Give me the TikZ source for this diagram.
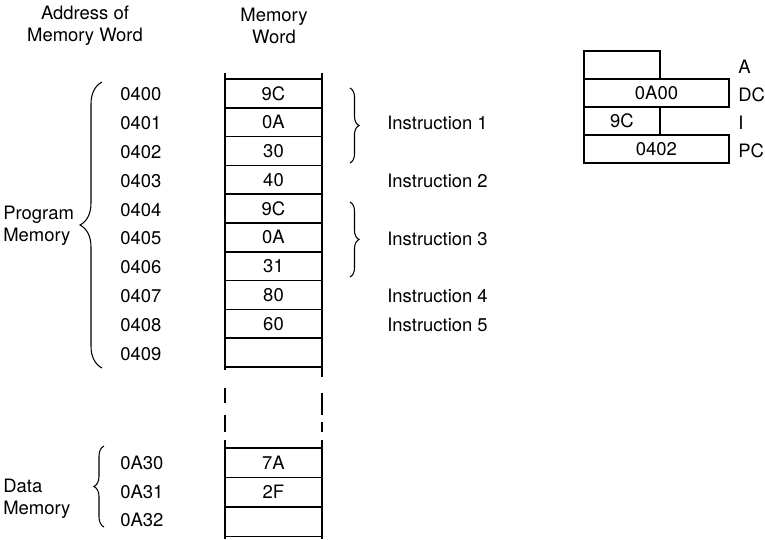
\documentclass[tikz,border=0pt]{standalone}
\usepackage{fontspec}
\setmainfont{TeX Gyre Heros}
\usetikzlibrary{decorations.pathreplacing,positioning}
\tikzset{
  cell/.style={draw,line width=1pt,minimum width=1.94cm,minimum height=0.576cm,inner sep=0pt},
  reg/.style={draw,line width=1pt,minimum height=0.56cm,inner sep=0pt,outer sep=0pt,anchor=north west},
  lbl/.style={anchor=west,inner sep=0pt},
  curly/.style={decorate,decoration={brace,amplitude=#1},semithick},
}

\begin{document}
\begin{tikzpicture}[x=0.02cm,y=-0.02cm,font=\fontsize{10.5}{12.5}\selectfont]
      \useasboundingbox (0,0) rectangle (765,539);
      % headings
      \node[align=center] (haddr) at (85,26) {Address of\\Memory Word};
      \node[align=center] (hword) at (274,26) {Memory\\Word};
      % program memory
      \foreach \v [count=\i from 0] in {9C,0A,30,40,9C,0A,31,80,60,{}}
        \node[cell] (c\i) at (273.5,{93.4+28.8*\i}) {\v};
      \foreach \a [count=\i from 0] in {0400,0401,0402,0403,0404,0405,0406,0407,0408,0409}
        \node[lbl] (a\i) at (120,{94.5+28.8*\i}) {\a};
      % data memory
      \foreach \v [count=\i from 0] in {7A,2F,{}}
        \node[cell,minimum height=0.59cm] (d\i) at (273.5,{462.75+29.5*\i}) {\v};
      \foreach \a [count=\i from 0] in {0A30,0A31,0A32}
        \node[lbl] (b\i) at (120,{463+28.5*\i}) {\a};
      % column sides, broken between the two parts
      \draw[line width=1pt] (225,73) -- (225,370) (225,388) -- (225,403)
        (225,415) -- (225,432) (225,440) -- (225,539);
      \draw[line width=1pt] (322,73) -- (322,377) (322,393) -- (322,415)
        (322,422) -- (322,432) (322,440) -- (322,539);
      % braces and their labels
      \coordinate (pmtop) at (102,82);
      \coordinate (pmbot) at (102,368);
      \draw[curly=0.44cm] (pmbot) -- (pmtop);
      \node[lbl,align=left] (pm) at (3,226) {Program\\Memory};
      \coordinate (dmtop) at (104,446);
      \coordinate (dmbot) at (104,527);
      \draw[curly=0.2cm] (dmbot) -- (dmtop);
      \node[lbl,align=left] (dm) at (3,499) {Data\\Memory};
      \coordinate (i1top) at (350,88);
      \coordinate (i1bot) at (350,163);
      \draw[curly=0.18cm] (i1top) -- (i1bot);
      \coordinate (i3top) at (350,202);
      \coordinate (i3bot) at (350,277);
      \draw[curly=0.18cm] (i3top) -- (i3bot);
      \node[lbl] (ins1) at (387,{94.5+28.8*1}) {Instruction 1};
      \node[lbl] (ins2) at (387,{94.5+28.8*3}) {Instruction 2};
      \node[lbl] (ins3) at (387,{94.5+28.8*5}) {Instruction 3};
      \node[lbl] (ins4) at (387,{94.5+28.8*7}) {Instruction 4};
      \node[lbl] (ins5) at (387,{94.5+28.8*8}) {Instruction 5};
      % registers
      \node[reg,minimum width=1.52cm] (ra) at (584,51) {};
      \node[reg,minimum width=2.9cm] (rdc) at (ra.south west) {0A00};
      \node[reg,minimum width=1.52cm] (ri) at (rdc.south west) {9C};
      \node[reg,minimum width=2.9cm] (rpc) at (ri.south west) {0402};
      \node[lbl] (la) at (738,67) {A};
      \node[lbl] (ldc) at (738,95) {DC};
      \node[lbl] (li) at (738,123) {I};
      \node[lbl] (lpc) at (738,151) {PC};
    \end{tikzpicture}
\end{document}
